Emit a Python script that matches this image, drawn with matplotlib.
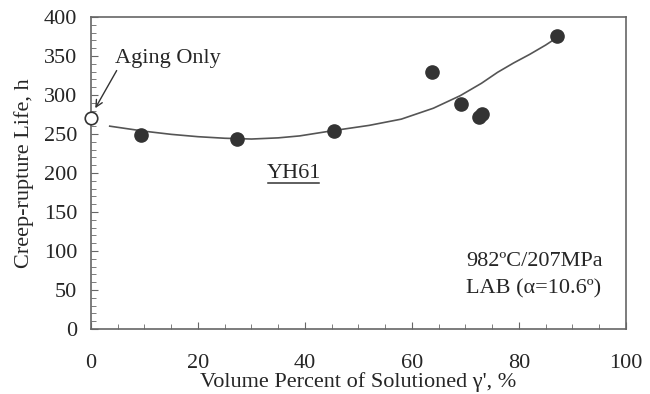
import matplotlib
matplotlib.use("Agg")
import matplotlib.pyplot as plt
from matplotlib.ticker import MultipleLocator

plt.rcParams['font.family'] = ['Liberation Serif', 'DejaVu Serif']

# Data
vol_pct = [9.3, 27.3, 45.4, 63.7, 69.2, 72.5, 73.0, 87.2]
life_h = [249, 244, 254, 329, 288, 272, 276, 375]
aging_x = [0]
aging_y = [271]
# fitted trend curve
curve_x = [3.5, 10, 15, 20, 25, 30, 35, 39, 45, 52, 58, 64, 69, 73, 76, 79, 82, 85, 87]
curve_y = [260, 253.5, 249.5, 246.5, 244.5, 243.5, 245, 247.5, 254, 261, 269, 283, 299, 315, 329, 341, 352, 364, 373]

xticks = [0, 20, 40, 60, 80, 100]
yticks = [0, 50, 100, 150, 200, 250, 300, 350, 400]

FS = 16
txt = '#262626'

fig = plt.figure(figsize=(6.5, 3.94), dpi=100)
ax = fig.add_axes([0.14, 0.165, 0.823, 0.792])

ax.plot(curve_x, curve_y, color='#555555', lw=1.2, zorder=2)
ax.plot(vol_pct, life_h, 'o', color='#333333', ms=9.5, zorder=3)
ax.plot(aging_x, aging_y, 'o', mfc='white', mec='#333333', mew=1.2, ms=9, zorder=4, clip_on=False)

ax.set_xlim(0, 100)
ax.set_ylim(0, 400)
ax.set_xticks(xticks)
ax.set_yticks(yticks)
ax.xaxis.set_minor_locator(MultipleLocator(5))
ax.yaxis.set_minor_locator(MultipleLocator(10))
ax.tick_params(which='both', direction='in', colors='#666666', labelcolor=txt, labelsize=FS)
ax.tick_params(axis='x', which='major', length=5, pad=18)
ax.tick_params(axis='x', which='minor', length=3.5)
ax.tick_params(axis='y', which='major', length=5, pad=10)
ax.tick_params(axis='y', which='minor', length=3.5)
ax.tick_params(top=False, right=False, which='both')
for s in ax.spines.values():
    s.set_color('#666666')
    s.set_linewidth(1.2)

ax.set_xlabel("Volume Percent of Solutioned \u03b3', %", fontsize=FS, color=txt, labelpad=-1)
ax.set_ylabel("Creep-rupture Life, h", fontsize=FS, color=txt, labelpad=7)

ax.annotate("Aging Only", xy=(0.8, 283), xytext=(4.5, 347), fontsize=FS, color=txt,
            va='center', ha='left',
            arrowprops=dict(arrowstyle='->', color='#333333', lw=1.0, shrinkA=0, shrinkB=0,
                            mutation_scale=12, relpos=(0.03, 0.0)),
            )
ax.text(37.9, 199, "YH61", fontsize=FS, color=txt, ha='center', va='center')
ax.plot([33.1, 42.7], [186.5, 186.5], color='#333333', lw=1.1)
ax.text(70.1, 87, "982ºC/207MPa", fontsize=FS, color=txt, ha='left', va='center')
ax.text(70.1, 51, "LAB (\u03b1=10.6º)", fontsize=FS, color=txt, ha='left', va='center')

fig.savefig("out.png", dpi=100)
